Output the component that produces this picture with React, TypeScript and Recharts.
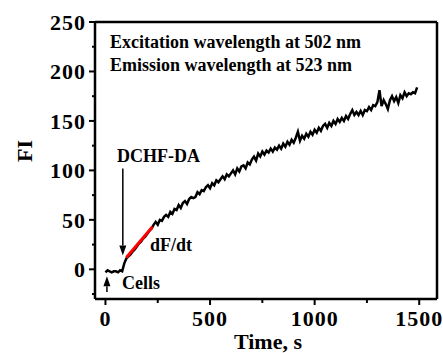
import React from "react"
import { LineChart, Line, XAxis, YAxis, ReferenceLine } from "recharts"

// time axis (s) of the fluorescence trace
const time = [
  0, 10, 20, 30, 40, 50, 60, 70, 80, 90,
  100, 110, 120, 130, 140, 150, 160, 170, 180, 190,
  200, 210, 220, 230, 240, 250, 260, 270, 280, 290,
  300, 310, 320, 330, 340, 350, 360, 370, 380, 390,
  400, 410, 420, 430, 440, 450, 460, 470, 480, 490,
  500, 510, 520, 530, 540, 550, 560, 570, 580, 590,
  600, 610, 620, 630, 640, 650, 660, 670, 680, 690,
  700, 710, 720, 730, 740, 750, 760, 770, 780, 790,
  800, 810, 820, 830, 840, 850, 860, 870, 880, 890,
  900, 910, 920, 930, 940, 950, 960, 970, 980, 990,
  1000, 1010, 1020, 1030, 1040, 1050, 1060, 1070, 1080, 1090,
  1100, 1110, 1120, 1130, 1140, 1150, 1160, 1170, 1180, 1190,
  1200, 1210, 1220, 1230, 1240, 1250, 1260, 1270, 1280, 1290,
  1300, 1310, 1320, 1330, 1340, 1350, 1360, 1370, 1380, 1390,
  1400, 1410, 1420, 1430, 1440, 1450, 1460, 1470, 1480, 1490,
]

// fluorescence intensity
const fi = [
  -3, -1, -2, -3, -2, -2, -3, -1, -2, 6,
  11, 13, 15, 18, 20, 23, 26, 28, 31, 33,
  36, 39, 41, 45, 48, 45, 50, 49, 53, 55,
  53, 58, 56, 61, 60, 65, 62, 67, 69, 66,
  71, 73, 72, 73, 78, 76, 80, 79, 83, 85,
  82, 87, 85, 90, 88, 91, 94, 91, 96, 94,
  97, 100, 96, 102, 99, 104, 105, 102, 108, 106,
  111, 114, 110, 117, 114, 119, 116, 120, 118, 122,
  119, 123, 121, 125, 122, 127, 124, 129, 126, 131,
  128, 133, 139, 130, 135, 132, 137, 134, 139, 136,
  141, 138, 143, 140, 145, 147, 143, 148, 145, 150,
  147, 152, 149, 153, 150, 155, 152, 157, 161, 156,
  159, 156, 160, 156, 161, 160, 164, 161, 166, 165,
  169, 181, 165, 171, 167, 162, 171, 175, 170, 174,
  168, 176, 173, 179, 175, 178, 177, 179, 178, 184,
]

// initial slope dF/dt after DCHF-DA addition
const slopeTime = [100, 225]
const slopeFi = [12, 43]

const xTicks = [0, 250, 500, 750, 1000, 1250, 1500]
const yTicks = [-25, 0, 25, 50, 75, 100, 125, 150, 175, 200, 225, 250]

const mainData = time.map((t, i) => ({ t, fi: fi[i] }))
const slopeData = slopeTime.map((t, i) => ({ t, fi: slopeFi[i] }))

const font = '"Liberation Serif", "Times New Roman", serif'

const YTick = (props: any) => {
  const { x, y, payload } = props
  const major = payload.value % 50 === 0
  return (
    <g>
      <line x1={x} x2={x - (major ? 6 : 3)} y1={y} y2={y} stroke="#000" strokeWidth={2} />
      {major && (
        <text x={x - 9} y={y} dy="0.36em" textAnchor="end" fontFamily={font} fontWeight="bold" fontSize={22} fill="#000" letterSpacing={1}>
          {payload.value}
        </text>
      )}
    </g>
  )
}

const XTick = (props: any) => {
  const { x, y, payload } = props
  const major = payload.value % 500 === 0
  return (
    <g>
      <line x1={x} x2={x} y1={y} y2={y + (major ? 6 : 4)} stroke="#000" strokeWidth={2} />
      {major && (
        <text x={x} y={y + 27} textAnchor="middle" fontFamily={font} fontWeight="bold" fontSize={22} fill="#000" letterSpacing={1}>
          {payload.value}
        </text>
      )}
    </g>
  )
}

const Arrow = (props: any) => {
  const { x1, y1, x2, y2 } = props
  const dir = y2 > y1 ? 1 : -1
  const head = 10
  return (
    <g>
      <line x1={x1} y1={y1} x2={x2} y2={y2 - dir * head} stroke="#000" strokeWidth={1.5} />
      <polygon points={`${x2},${y2} ${x2 - 3.5},${y2 - dir * head} ${x2 + 3.5},${y2 - dir * head}`} fill="#000" />
    </g>
  )
}

const labelStyle = { fontFamily: font, fontWeight: "bold" as const, fontSize: 18, fill: "#000" }

export default function App() {
  return (
    <div style={{ position: "absolute", left: 0, top: 0, width: 443, height: 353, background: "#fff" }}>
      <LineChart width={443} height={353} margin={{ top: 22, right: 6, bottom: 0, left: 0 }}>
        <XAxis
          dataKey="t"
          type="number"
          domain={[-50, 1585]}
          ticks={xTicks}
          interval={0}
          allowDataOverflow
          height={54}
          tickSize={0}
          tickMargin={0}
          tickLine={false}
          tick={<XTick />}
          axisLine={{ stroke: "#000", strokeWidth: 2.5 }}
        />
        <YAxis
          type="number"
          domain={[-30, 250]}
          ticks={yTicks}
          interval={0}
          allowDataOverflow
          width={95}
          tickSize={0}
          tickMargin={0}
          tickLine={false}
          tick={<YTick />}
          axisLine={{ stroke: "#000", strokeWidth: 2.5 }}
        />
        <ReferenceLine y={250} stroke="#000" strokeWidth={2.5} />
        <ReferenceLine x={1585} stroke="#000" strokeWidth={2.5} />
        <Line data={mainData} dataKey="fi" stroke="#000" strokeWidth={2.5} dot={false} isAnimationActive={false} />
        <Line data={slopeData} dataKey="fi" stroke="#ff0000" strokeWidth={3} dot={false} isAnimationActive={false} />
        <ReferenceLine segment={[{ x: 83, y: 102 }, { x: 83, y: 14 }]} shape={<Arrow />} />
        <ReferenceLine segment={[{ x: 7, y: -23 }, { x: 7, y: -7 }]} shape={<Arrow />} />
        <text x={110} y={48} {...labelStyle}>Excitation wavelength at 502 nm</text>
        <text x={110} y={71} {...labelStyle}>Emission wavelength at 523 nm</text>
        <text x={117} y={162} {...labelStyle}>DCHF-DA</text>
        <text x={150} y={251} {...labelStyle}>dF/dt</text>
        <text x={122} y={289} {...labelStyle}>Cells</text>
        <text x={268} y={349} textAnchor="middle" fontFamily={font} fontWeight="bold" fontSize={22} fill="#000">Time, s</text>
        <text x={0} y={0} transform="translate(32,151) rotate(-90)" textAnchor="middle" fontFamily={font} fontWeight="bold" fontSize={22} fill="#000">FI</text>
      </LineChart>
    </div>
  )
}
